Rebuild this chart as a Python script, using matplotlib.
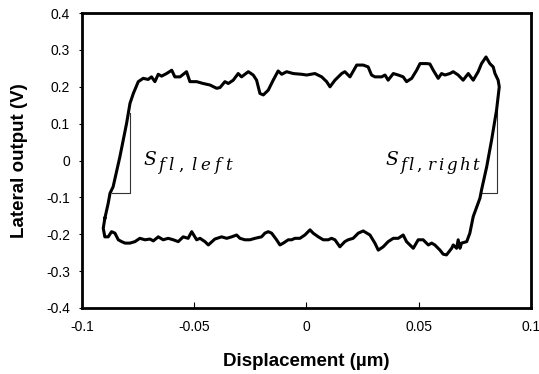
import matplotlib

matplotlib.use("Agg")
import matplotlib.pyplot as plt

plt.rcParams["font.family"] = ["Liberation Sans", "DejaVu Sans"]
plt.rcParams["mathtext.fontset"] = "dejavuserif"
plt.rcParams["axes.unicode_minus"] = False

# Friction loop: left ramp up, upper branch,
# right ramp down, lower branch back to the start
disp = [
    -0.0898, -0.0883, -0.0875, -0.0861, -0.0831, -0.0801, -0.0786, -0.0771, -0.0749,
    -0.0727, -0.0705, -0.0690, -0.0675, -0.0660, -0.0645, -0.0623, -0.0600, -0.0586,
    -0.0563, -0.0534, -0.0519, -0.0489, -0.0460, -0.0430, -0.0400, -0.0385, -0.0363,
    -0.0348, -0.0326, -0.0304, -0.0289, -0.0259, -0.0237, -0.0222, -0.0207, -0.0192,
    -0.0170, -0.0148, -0.0126, -0.0110, -0.0088, -0.0059, -0.0021, 0.0001, 0.0038,
    0.0068, 0.0090, 0.0105, 0.0127, 0.0157, 0.0171, 0.0194, 0.0224, 0.0253, 0.0275,
    0.0290, 0.0305, 0.0335, 0.0350, 0.0364, 0.0387, 0.0409, 0.0431, 0.0446, 0.0469,
    0.0491, 0.0506, 0.0535, 0.0550, 0.0565, 0.0587, 0.0602, 0.0617, 0.0639, 0.0654,
    0.0676, 0.0698, 0.0721, 0.0743, 0.0765, 0.0780, 0.0800, 0.0817, 0.0832, 0.0840,
    0.0854, 0.0859,
    0.0854, 0.0847, 0.0825, 0.0803, 0.0780, 0.0773, 0.0743, 0.0728, 0.0714,
    0.0691, 0.0684, 0.0676, 0.0669, 0.0654, 0.0647, 0.0624, 0.0609, 0.0595, 0.0572,
    0.0558, 0.0543, 0.0520, 0.0498, 0.0476, 0.0446, 0.0431, 0.0409, 0.0387, 0.0364,
    0.0342, 0.0320, 0.0305, 0.0283, 0.0253, 0.0231, 0.0208, 0.0186, 0.0171, 0.0149,
    0.0127, 0.0112, 0.0097, 0.0075, 0.0053, 0.0030, 0.0016, -0.0007, -0.0029, -0.0051,
    -0.0066, -0.0081, -0.0103, -0.0118, -0.0133, -0.0155, -0.0170, -0.0185, -0.0200,
    -0.0229, -0.0252, -0.0274, -0.0296, -0.0311, -0.0333, -0.0355, -0.0378, -0.0408,
    -0.0437, -0.0452, -0.0474, -0.0489, -0.0511, -0.0527, -0.0549, -0.0571, -0.0593,
    -0.0616, -0.0638, -0.0660, -0.0682, -0.0697, -0.0719, -0.0742, -0.0764, -0.0786,
    -0.0808, -0.0823, -0.0838, -0.0853, -0.0868, -0.0883, -0.0898, -0.0905, -0.0898,
]
lateral = [
    -0.157, -0.116, -0.089, -0.071, 0.010, 0.101, 0.155, 0.182, 0.214,
    0.223, 0.220, 0.227, 0.214, 0.234, 0.229, 0.236, 0.245, 0.227,
    0.227, 0.241, 0.214, 0.214, 0.209, 0.205, 0.196, 0.198, 0.214,
    0.209, 0.218, 0.236, 0.227, 0.241, 0.232, 0.218, 0.182, 0.178,
    0.191, 0.218, 0.243, 0.234, 0.241, 0.236, 0.234, 0.232, 0.236,
    0.227, 0.214, 0.200, 0.218, 0.236, 0.241, 0.227, 0.259, 0.259, 0.254,
    0.232, 0.227, 0.227, 0.232, 0.218, 0.236, 0.232, 0.227, 0.214, 0.223,
    0.245, 0.263, 0.263, 0.262, 0.245, 0.223, 0.236, 0.232, 0.236, 0.241,
    0.232, 0.218, 0.236, 0.218, 0.241, 0.263, 0.281, 0.263, 0.254, 0.236,
    0.218, 0.200,
    0.173, 0.137, 0.056, -0.017, -0.080, -0.102, -0.152, -0.197, -0.220,
    -0.224, -0.238, -0.215, -0.238, -0.229, -0.238, -0.256, -0.254, -0.243, -0.229,
    -0.224, -0.229, -0.215, -0.215, -0.238, -0.220, -0.202, -0.211, -0.211, -0.220,
    -0.234, -0.243, -0.224, -0.202, -0.191, -0.197, -0.211, -0.215, -0.220, -0.234,
    -0.215, -0.211, -0.215, -0.215, -0.207, -0.197, -0.188, -0.202, -0.211, -0.211,
    -0.215, -0.215, -0.224, -0.229, -0.215, -0.197, -0.193, -0.197, -0.207,
    -0.211, -0.215, -0.215, -0.211, -0.202, -0.207, -0.211, -0.207, -0.213,
    -0.229, -0.220, -0.211, -0.215, -0.193, -0.211, -0.207, -0.220, -0.215,
    -0.211, -0.215, -0.207, -0.218, -0.213, -0.215, -0.211, -0.220, -0.224,
    -0.224, -0.220, -0.215, -0.197, -0.193, -0.207, -0.207, -0.184, -0.157,
]

# Slope guides (right-angle triangles) on the two sticking ramps
left_guide_x = [-0.0868, -0.0786, -0.0786]
left_guide_y = [-0.089, -0.089, 0.129]
right_guide_x = [0.0778, 0.0847, 0.0847]
right_guide_y = [-0.089, -0.089, 0.137]

x_ticks = [-0.1, -0.05, 0, 0.05, 0.1]
x_labels = ["-0.1", "-0.05", "0", "0.05", "0.1"]
y_ticks = [-0.4, -0.3, -0.2, -0.1, 0, 0.1, 0.2, 0.3, 0.4]
y_labels = ["-0.4", "-0.3", "-0.2", "-0.1", "0", "0.1", "0.2", "0.3", "0.4"]


def slope_label(ax, x, y, sub, gap):
    """S with a big, widely spaced subscript, like Word's Cambria Math."""
    ax.text(x, y, r"$S$", fontsize=13.5, va="baseline")
    ax.annotate(r"$" + gap.join(sub) + "$", xy=(x, y), xytext=(10, -3.5),
                textcoords="offset points", fontsize=12, va="baseline")


def main():
    fig = plt.figure(figsize=(5.39, 3.74), dpi=100)
    ax = fig.add_axes([0.152, 0.1765, 0.833, 0.7885])

    ax.plot(left_guide_x, left_guide_y, color="#333333", lw=0.8)
    ax.plot(right_guide_x, right_guide_y, color="#333333", lw=0.8)
    ax.plot(disp, lateral, color="black", lw=2.2, solid_joinstyle="round")

    slope_label(ax, -0.0728, -0.012, "fl,left", r"\;")
    slope_label(ax, 0.0350, -0.012, "fl,right", r"\,")

    ax.set_xlim(-0.1, 0.1)
    ax.set_ylim(-0.4, 0.4)
    ax.set_xticks(x_ticks)
    ax.set_xticklabels(x_labels)
    ax.set_yticks(y_ticks)
    ax.set_yticklabels(y_labels)
    ax.tick_params(axis="x", direction="in", length=4, width=0.8, pad=9, labelsize=10)
    ax.tick_params(axis="y", direction="out", length=2.5, width=0.8, pad=6, labelsize=10)

    for spine in ax.spines.values():
        spine.set_linewidth(2)

    ax.set_xlabel("Displacement (µm)", fontsize=13.5, fontweight="bold", labelpad=13)
    ax.set_ylabel("Lateral output (V)", fontsize=13.5, fontweight="bold", labelpad=13)

    fig.savefig("out.png", dpi=100)


if __name__ == "__main__":
    main()
